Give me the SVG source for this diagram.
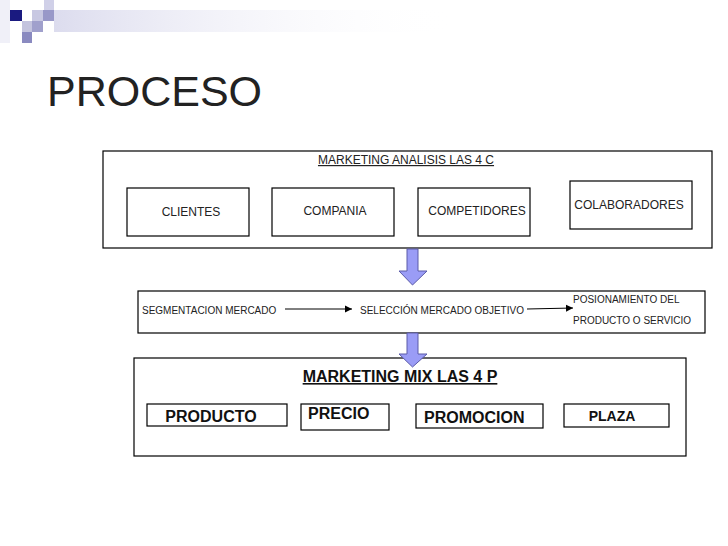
<svg xmlns="http://www.w3.org/2000/svg" width="728" height="546" viewBox="0 0 728 546">
<defs>
<style>
.box{fill:#fff;stroke:#000;stroke-width:1.2}
.t{font-family:"Liberation Sans",Arial,sans-serif;fill:#222}
.s12{font-size:12px}
.s10{font-size:10px}
.b{font-weight:bold;font-size:16px;fill:#111}
.big{fill:#9a9cf6;stroke:#5a5aa8;stroke-width:1}
.ln{stroke:#000;stroke-width:1;fill:none}
</style>
<marker id="ah" markerWidth="8" markerHeight="8" refX="7" refY="4" orient="auto" markerUnits="userSpaceOnUse">
<path d="M0,0.5 L7,4 L0,7.5 Z" fill="#000"/>
</marker>
<linearGradient id="band" x1="0" y1="0" x2="1" y2="0">
<stop offset="0" stop-color="#dcdcee"/>
<stop offset="1" stop-color="#ffffff" stop-opacity="0"/>
</linearGradient>
</defs>
<rect width="728" height="546" fill="#fff"/>
<g id="decoration">
<rect x="0" y="0" width="10" height="43" fill="#f0f0f8"/>
<rect x="54" y="10" width="400" height="22" fill="url(#band)"/>
<rect x="10" y="10" width="12" height="11" fill="#1a1a80"/>
<rect x="44" y="0" width="10" height="10" fill="#d0d0e8"/>
<rect x="32" y="10" width="11" height="11" fill="#c8c8e2"/>
<rect x="43" y="10" width="11" height="11" fill="#9898c8"/>
<rect x="22" y="21" width="10" height="11" fill="#c4c4de"/>
<rect x="32" y="21" width="11" height="11" fill="#a0a0cc"/>
<rect x="22" y="32" width="10" height="11" fill="#8a8ac0"/>
</g>
<text id="title" class="t" x="47" y="106" font-size="43" fill="#000">PROCESO</text>
<g id="analisis">
<rect class="box" x="103" y="151" width="609" height="97"/>
<text class="t s12" x="406" y="164" text-anchor="middle" text-decoration="underline">MARKETING ANALISIS LAS 4 C</text>
</g>
<g id="clientes"><rect class="box" x="127" y="188" width="122" height="48"/><text class="t s12" x="191" y="216" text-anchor="middle">CLIENTES</text></g>
<g id="compania"><rect class="box" x="272" y="188" width="122" height="48"/><text class="t s12" x="335" y="215" text-anchor="middle">COMPANIA</text></g>
<g id="competidores"><rect class="box" x="418" y="188" width="112" height="48"/><text class="t s12" x="477" y="215" text-anchor="middle">COMPETIDORES</text></g>
<g id="colaboradores"><rect class="box" x="570" y="181" width="122" height="48"/><text class="t s12" x="629" y="209" text-anchor="middle">COLABORADORES</text></g>
<g id="proceso2">
<rect class="box" x="138" y="291" width="567" height="42"/>
<text class="t s10" x="142" y="314">SEGMENTACION MERCADO</text>
<text class="t s10" x="360" y="314">SELECCIÓN MERCADO OBJETIVO</text>
<text class="t s10" x="573" y="303">POSIONAMIENTO DEL</text>
<text class="t s10" x="573" y="324">PRODUCTO O SERVICIO</text>
</g>
<g id="mix">
<rect class="box" x="134" y="358" width="552" height="98"/>
<text class="t b" x="400" y="382" text-anchor="middle" text-decoration="underline">MARKETING MIX LAS 4 P</text>
</g>
<g id="producto"><rect class="box" x="147" y="404" width="140" height="22"/><text class="t b" x="211" y="422" text-anchor="middle">PRODUCTO</text></g>
<g id="precio"><rect class="box" x="301" y="404" width="88" height="26"/><text class="t b" x="308" y="419">PRECIO</text></g>
<g id="promocion"><rect class="box" x="416" y="404" width="127" height="24"/><text class="t b" x="424" y="423">PROMOCION</text></g>
<g id="plaza"><rect class="box" x="564" y="404" width="105" height="23"/><text class="t b" x="612" y="421" text-anchor="middle" style="font-size:14px">PLAZA</text></g>
<g id="connectors">
<path class="big" d="M407,249 H418 V271 H427 L412.5,285 L399,271 H407 Z"/>
<path class="big" d="M407,333 H418 V354 H427 L412.5,367 L399,354 H407 Z"/>
<line class="ln" x1="285" y1="309" x2="352" y2="309" marker-end="url(#ah)"/>
<line class="ln" x1="527" y1="309" x2="573" y2="308" marker-end="url(#ah)"/>
</g>
</svg>
